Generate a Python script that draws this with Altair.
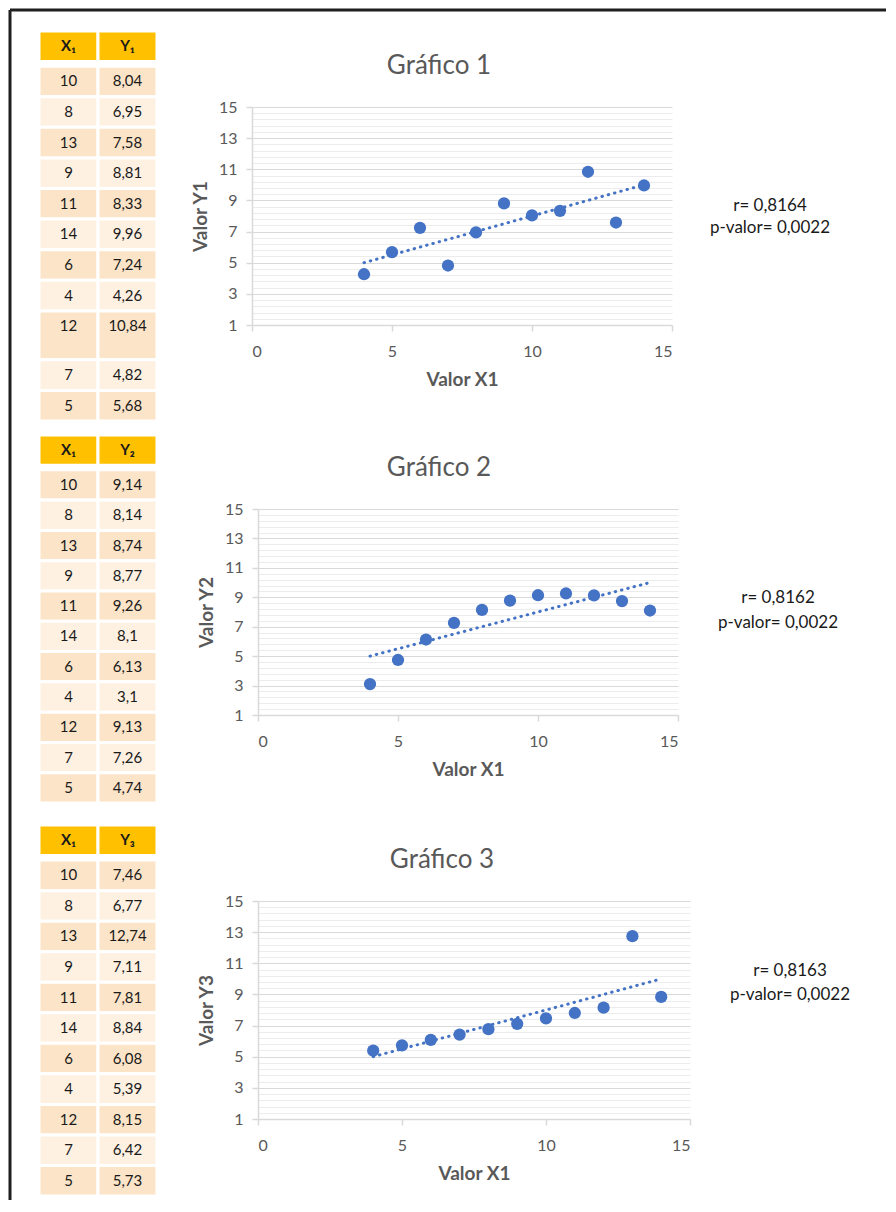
import altair as alt
import pandas as pd

# ---------------- data ----------------
x1 = [10, 8, 13, 9, 11, 14, 6, 4, 12, 7, 5]
y1 = [8.04, 6.95, 7.58, 8.81, 8.33, 9.96, 7.24, 4.26, 10.84, 4.82, 5.68]
y2 = [9.14, 8.14, 8.74, 8.77, 9.26, 8.1, 6.13, 3.1, 9.13, 7.26, 4.74]
y3 = [7.46, 6.77, 12.74, 7.11, 7.81, 8.84, 6.08, 5.39, 8.15, 6.42, 5.73]

headers = [("X\u2081", "Y\u2081"), ("X\u2081", "Y\u2082"), ("X\u2081", "Y\u2083")]
chart_titles = ["Gráfico 1", "Gráfico 2", "Gráfico 3"]
y_titles = ["Valor Y1", "Valor Y2", "Valor Y3"]
x_title = "Valor X1"
r_values = ["0,8164", "0,8162", "0,8163"]
p_values = ["0,0022", "0,0022", "0,0022"]
x_ticks = [0, 5, 10, 15]
y_ticks = [1, 3, 5, 7, 9, 11, 13, 15]
# row heights in table 1 (row "12" is taller), others uniform
row_spans = [
    [1, 1, 1, 1, 1, 1, 1, 1, 1.6, 1, 1],
    [1] * 11,
    [1] * 11,
]

FONT = "Lato"
GRAY = "#595959"
BLUE = "#4472C4"
minor_ticks = [round(1 + 0.4 * k, 1) for k in range(36) if k % 5 != 0]
ONE = pd.DataFrame({"k": [0]})


def fmt(v):
    return f"{v:g}".replace(".", ",")


def table_df(ys, header, spans):
    recs = []
    for col, h in zip(["a", "b"], header):
        recs.append(dict(col=col, start=0.0, end=1.0, mid=0.5, text=h, kind="head"))
    pos = 1.15
    for i, (xv, yv, sp) in enumerate(zip(x1, ys, spans)):
        shade = "dark" if i % 2 == 0 else "light"
        recs.append(dict(col="a", start=pos, end=pos + sp, mid=pos + 0.5, text=str(xv), kind=shade))
        recs.append(dict(col="b", start=pos, end=pos + sp, mid=pos + 0.5, text=fmt(yv), kind=shade))
        pos += sp
    return pd.DataFrame(recs), pos


def table_chart(ys, header, spans, height, colors):
    df, total = table_df(ys, header, spans)
    base = alt.Chart(df)
    xenc = alt.X("col:N", scale=alt.Scale(paddingInner=0, paddingOuter=0), axis=None)
    yscale = alt.Scale(domain=[0, total], reverse=True, nice=False, zero=False)
    rect = base.mark_rect(stroke="white", strokeWidth=3).encode(
        x=xenc,
        y=alt.Y("start:Q", scale=yscale, axis=None),
        y2="end:Q",
        color=alt.Color("kind:N", scale=alt.Scale(domain=["head", "dark", "light"], range=colors), legend=None),
    )
    head = base.transform_filter("datum.kind == 'head'").mark_text(
        font=FONT, fontSize=15, fontWeight="bold", color="#1a1a1a"
    ).encode(x=xenc, y=alt.Y("mid:Q", scale=yscale, axis=None), text="text:N")
    body = base.transform_filter("datum.kind != 'head'").mark_text(
        font=FONT, fontSize=15, color="#1a1a1a"
    ).encode(x=xenc, y=alt.Y("mid:Q", scale=yscale, axis=None), text="text:N")
    return alt.layer(rect, head, body).properties(width=118, height=height)


def scatter_chart(ys, title, ytitle, w, h, dx, rtext, ptext, tx, ty1, ty2):
    df = pd.DataFrame({"x": x1, "y": ys})
    xs = alt.Scale(domain=[0, 15], nice=False)
    yscale = alt.Scale(domain=[1, 15], nice=False, zero=False)
    trend = alt.Chart(df).transform_regression("x", "y").mark_line(
        color=BLUE, strokeWidth=3, strokeDash=[0.5, 6], strokeCap="round"
    ).encode(
        x=alt.X("x:Q", scale=xs),
        y=alt.Y(
            "y:Q",
            scale=yscale,
            axis=alt.Axis(
                values=minor_ticks, grid=True, gridColor="#ececec", labels=False,
                ticks=False, domain=False, title=None, orient="right",
            ),
        ),
    )
    pts = alt.Chart(df).mark_circle(size=150, color=BLUE, opacity=1).encode(
        x=alt.X(
            "x:Q", scale=xs,
            axis=alt.Axis(values=x_ticks, title=x_title, grid=False, labelPadding=12, titlePadding=11),
        ),
        y=alt.Y(
            "y:Q", scale=yscale,
            axis=alt.Axis(values=y_ticks, title=ytitle, grid=True, gridColor="#d9d9d9",
                          labelPadding=9, titlePadding=8),
        ),
    )
    t1 = alt.Chart(pd.DataFrame({"t": ["r= " + rtext]})).mark_text(
        font=FONT, fontSize=17, color="#1a1a1a", align="center", baseline="middle"
    ).encode(x=alt.value(tx), y=alt.value(ty1), text="t:N")
    t2 = alt.Chart(pd.DataFrame({"t": ["p-valor= " + ptext]})).mark_text(
        font=FONT, fontSize=17, color="#1a1a1a", align="center", baseline="middle"
    ).encode(x=alt.value(tx), y=alt.value(ty2), text="t:N")
    return (
        alt.layer(trend, pts, t1, t2)
        .resolve_axis(y="independent")
        .properties(
            width=w, height=h,
            title=alt.TitleParams(
                text=title, anchor="middle", frame="group", dx=dx, offset=20,
                font=FONT, fontSize=26, fontWeight="normal", color=GRAY,
            ),
        )
    )


def spacer(wd, ht):
    return alt.Chart(ONE).mark_circle(size=1, opacity=0).encode(
        x=alt.value(0), y=alt.value(0)
    ).properties(width=wd, height=ht)


gold = ["#FFC000", "#FCE4C8", "#FEF1E2"]
orange = ["#ED7D31", "#F6CCBE", "#FBE6DF"]

tab1 = table_chart(y1, headers[0], row_spans[0], 390, gold)
tab2 = table_chart(y2, headers[1], row_spans[1], 368, orange)
tab3 = table_chart(y3, headers[2], row_spans[2], 371, gold)

sc1 = scatter_chart(y1, chart_titles[0], y_titles[0], 420, 218, -23, r_values[0], p_values[0], 518, 99, 121)
sc2 = scatter_chart(y2, chart_titles[1], y_titles[1], 420, 206, -29, r_values[1], p_values[1], 520, 89, 114)
sc3 = scatter_chart(y3, chart_titles[2], y_titles[2], 432, 218, -32, r_values[2], p_values[2], 532, 70, 94)


def row(tab, sc, lead, gap):
    col = alt.vconcat(spacer(10, lead), sc, spacing=0, bounds="flush")
    return alt.hconcat(tab, col, spacing=gap, bounds="flush")


row1 = row(tab1, sc1, 76, 95)
row2 = row(tab2, sc2, 74, 101)
row3 = row(tab3, sc3, 76, 101)
body = alt.vconcat(row1, alt.vconcat(row2, row3, spacing=18), spacing=10)

# page frame (top and left dark lines)
frame_left = alt.Chart(ONE).mark_rule(color="#1f1f1f", strokeWidth=3).encode(
    x=alt.value(0), y=alt.value(0), y2=alt.value(1190)
)
frame_top = alt.Chart(ONE).mark_rule(color="#1f1f1f", strokeWidth=3).encode(
    x=alt.value(0), x2=alt.value(876), y=alt.value(0)
)
frame = alt.layer(frame_left, frame_top).properties(width=29, height=21)

chart = (
    alt.vconcat(
        frame,
        alt.hconcat(spacer(29, 10), body, spacing=0, bounds="flush"),
        spacing=0,
        bounds="flush",
    )
    .properties(padding=0, background="white")
    .configure_view(stroke=None)
    .configure_axis(
        labelFont=FONT, labelFontSize=16, labelColor=GRAY,
        titleFont=FONT, titleFontSize=19, titleColor=GRAY, titleFontWeight="bold",
        domainColor="#d9d9d9", tickColor="#d9d9d9", tickSize=6, domainWidth=1.5, tickWidth=1.5,
    )
)

chart.save("out.html", embed_options={"renderer": "svg", "actions": False})
